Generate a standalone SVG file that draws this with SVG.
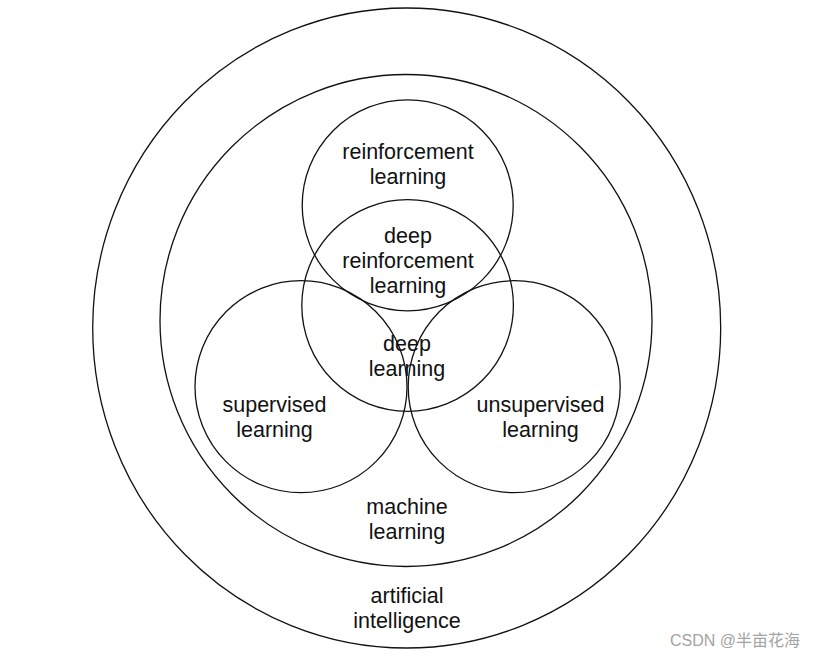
<svg xmlns="http://www.w3.org/2000/svg" width="821" height="657" viewBox="0 0 821 657">
<style>
.c{fill:none;stroke:#111;stroke-width:1.3}
.t{font-family:"Liberation Sans",Arial,sans-serif;font-size:21.5px;fill:#111;text-anchor:middle}
.wm{font-family:"Liberation Sans","Noto Sans CJK SC",sans-serif;font-size:16px;fill:#a3a3a3}
</style>
<rect width="821" height="657" fill="#fff"/>
<g id="artificial-intelligence">
<ellipse class="c" cx="406.7" cy="328" rx="314" ry="320"/>
<text class="t" x="407" y="602.8">artificial</text>
<text class="t" x="407" y="627.8">intelligence</text>
</g>
<g id="machine-learning">
<circle class="c" cx="406" cy="320.5" r="246"/>
<text class="t" x="407" y="514.3">machine</text>
<text class="t" x="407" y="539.3">learning</text>
</g>
<g id="reinforcement-learning">
<circle class="c" cx="407.7" cy="205.3" r="105.5"/>
<text class="t" x="408" y="158.8">reinforcement</text>
<text class="t" x="408" y="183.8">learning</text>
</g>
<g id="deep-learning">
<circle class="c" cx="407.6" cy="305.5" r="105.8"/>
<text class="t" x="407" y="351">deep</text>
<text class="t" x="407" y="376">learning</text>
</g>
<g id="supervised-learning">
<circle class="c" cx="301" cy="386.7" r="106"/>
<text class="t" x="274.5" y="412">supervised</text>
<text class="t" x="274.5" y="437">learning</text>
</g>
<g id="unsupervised-learning">
<circle class="c" cx="514.2" cy="386.7" r="106"/>
<text class="t" x="540.5" y="412">unsupervised</text>
<text class="t" x="540.5" y="437">learning</text>
</g>
<g id="deep-reinforcement-learning">
<text class="t" x="408" y="242.8">deep</text>
<text class="t" x="408" y="267.8">reinforcement</text>
<text class="t" x="408" y="292.8">learning</text>
</g>
<text class="wm" x="670" y="646">CSDN @半亩花海</text>
</svg>
